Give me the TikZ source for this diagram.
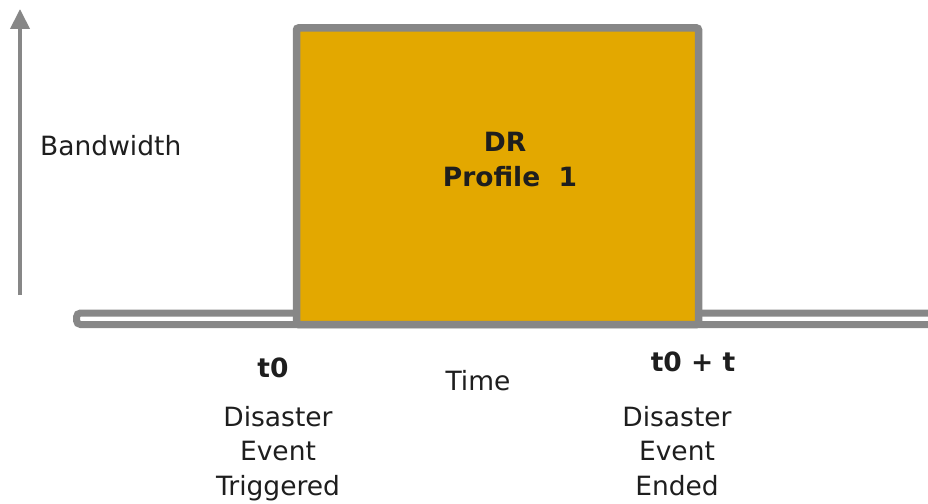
\documentclass[tikz,border=0pt]{standalone}
\usepackage{fontspec}
\setmainfont{DejaVu Sans}
\usetikzlibrary{arrows.meta}
\definecolor{axisgray}{HTML}{878787}
\definecolor{drorange}{HTML}{E3A800}
\definecolor{txt}{HTML}{1E1E1E}
\begin{document}
\begin{tikzpicture}[x=1pt,y=-1pt,
  lbl/.style={text=txt,inner sep=0pt,font=\fontsize{26.5}{34.5}\selectfont},
  blbl/.style={text=txt,inner sep=0pt,font=\fontsize{26.5}{34.5}\selectfont\bfseries},
  stack/.style={lbl,align=center,anchor=north}]
\useasboundingbox (0,0) rectangle (928,503);
% vertical axis
\coordinate (ybot) at (20,295);
\coordinate (ytop) at (20,9);
\draw[axisgray,line width=4pt,-{Triangle[length=20pt,width=19pt]}] (ybot) -- (ytop);
% horizontal bar
\draw[axisgray,line width=7pt,fill=white,rounded corners=4pt] (76.5,313) rectangle (940,324.5);
% DR profile block
\coordinate (bnw) at (296.5,28);
\coordinate (bse) at (698.5,324.5);
\draw[axisgray,fill=drorange,line width=7.5pt,rounded corners=2pt] (bnw) rectangle (bse);
\node[blbl,anchor=base] (dr) at (505,151) {DR};
\node[blbl,anchor=base] (prof) at (510,186) {Profile\ \ 1};
% labels
\node[lbl,anchor=base west] (bw) at (40,155) {Bandwidth};
\node[lbl,anchor=base] (time) at (478,390) {Time};
\node[blbl,anchor=base] (t0) at (273,377) {t0};
\node[blbl,anchor=base] (t0t) at (693,371) {t0 + t};
\node[stack] (left) at (278,406) {Disaster\\Event\\Triggered};
\node[stack] (right) at (677,406) {Disaster\\Event\\Ended};
\end{tikzpicture}
\end{document}
